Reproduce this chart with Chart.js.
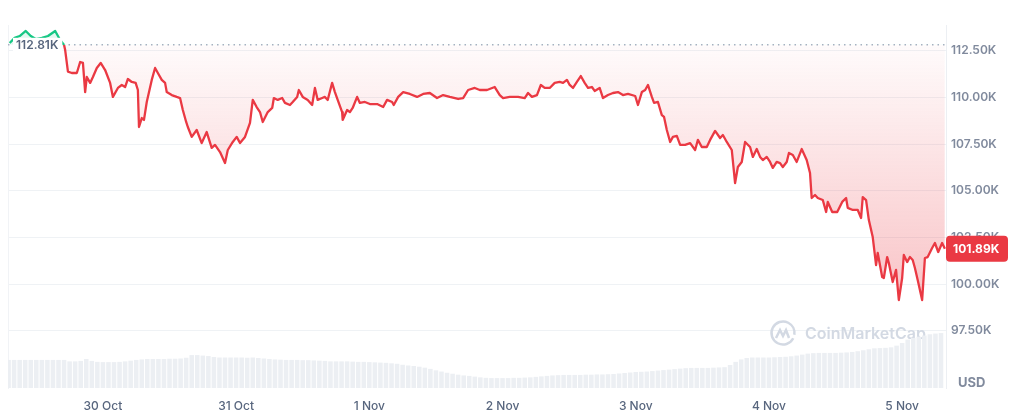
<!DOCTYPE html>
<html lang="en">
<head>
<meta charset="UTF-8">
<title>BTC price 7D</title>
<script src="https://cdn.jsdelivr.net/npm/chart.js"></script>
<style>
    body { margin: 0; background: #fff; }
    #wrap { width: 1012px; height: 414px; }
</style>
</head>
<body>
<div id="wrap"><canvas id="priceChart" width="1012" height="414"></canvas></div>
<script>
// time axis: hours counted from 29 Oct 00:00
const priceHours = [
    7.2, 8.1, 9.0, 10.1, 11.0, 11.9, 13.0, 14.1, 15.4, 16.3, 17.0,
    17.2, 17.7, 18.4, 19.3, 19.9, 20.4, 20.8, 21.1, 21.7, 22.2, 22.9, 23.6,
    24.4, 25.3, 25.8, 26.7, 27.4, 28.0, 28.5, 29.2, 29.9, 30.3, 30.5, 31.0, 31.4, 31.9,
    32.8, 33.4, 33.9, 34.6, 35.2, 35.5, 36.4, 37.3, 37.9, 38.4, 39.0, 39.3,
    40.0, 40.9, 41.8, 42.7, 43.6, 44.2, 45.1, 46.0, 46.5, 47.4, 48.1, 48.7, 49.6,
    50.5, 51.0, 51.7, 52.3, 52.8, 53.7, 54.5, 54.8, 55.5, 56.3, 56.8, 57.7, 58.2, 59.0, 59.3,
    60.0, 60.9, 61.7, 62.2, 62.7, 63.5, 64.0, 64.5, 65.3, 65.8, 66.3, 67.1, 67.2, 68.0, 68.5, 69.0, 69.8,
    70.3, 71.2, 72.1, 73.4, 74.5, 75.2, 76.1, 76.4, 77.2, 78.1, 79.3,
    80.6, 81.7, 82.9, 84.2, 85.3, 86.5, 88.0, 88.9, 89.8,
    91.0, 91.9, 93.2, 94.6, 95.5, 96.1, 97.3, 98.8, 100.0, 100.6, 101.3, 102.2, 102.9, 103.6, 104.5,
    105.4, 106.3, 106.9, 107.6, 108.1, 108.7, 109.4, 110.1, 110.8, 111.4, 112.1, 112.6, 113.5, 114.1, 115.0, 115.9, 116.8, 117.7, 118.6, 119.9,
    120.4, 121.1, 121.7, 122.2, 122.9, 123.3, 124.0, 124.7, 125.1, 125.6, 126.2, 126.7, 127.4, 128.0, 128.9, 129.8,
    130.7, 131.2, 131.9, 132.8, 133.4, 134.3, 135.2, 135.7, 136.4, 137.3, 137.9, 138.4, 139.1, 139.7,
    140.6, 141.1, 141.8, 142.4, 142.9, 143.6, 144.2, 144.7, 145.4, 146.0, 146.5, 147.2, 147.6, 148.3, 149.0, 149.9,
    150.8, 151.4, 151.7, 152.3, 152.8, 153.7, 154.3, 154.6, 155.4, 156.3, 157.2, 157.9, 158.2, 159.1, 160.0,
    160.6, 160.9, 161.5, 162.0, 162.7, 163.3, 163.6, 164.4, 164.7, 165.3, 165.6, 166.3, 166.9, 167.4, 168.0, 168.3, 168.9, 169.4, 169.9,
    170.3, 170.8, 171.6, 172.1, 172.6, 173.4, 173.9, 174.5, 175.2, 175.7
];
// price in thousands of USD
const priceK = [
    112.91, 113.18, 113.28, 113.55, 113.28, 113.12, 113.18, 113.28, 113.55, 113.07, 112.80,
    112.53, 111.37, 111.30, 111.30, 111.89, 111.84, 110.28, 111.09, 110.77, 111.09, 111.57, 111.84,
    111.46, 110.77, 110.02, 110.50, 110.66, 110.55, 110.98, 110.82, 110.77, 110.39, 108.41, 108.89, 108.79, 109.75,
    110.93, 111.57, 111.30, 110.93, 110.77, 110.28, 110.12, 110.02, 109.96, 109.32, 108.68, 108.41,
    107.88, 108.25, 107.55, 108.14, 107.29, 107.45, 107.07, 106.48, 107.18, 107.61, 107.88, 107.55, 107.88,
    108.63, 109.86, 109.48, 109.21, 108.68, 109.21, 109.43, 109.96, 109.86, 109.96, 109.70, 109.59, 109.75, 110.02, 110.39,
    110.02, 109.86, 109.59, 110.50, 109.86, 109.96, 110.02, 109.86, 110.77, 110.28, 109.86, 109.21, 108.79, 109.32, 109.21, 109.43, 110.02,
    109.70, 109.75, 109.64, 109.64, 109.48, 109.86, 109.75, 109.59, 110.02, 110.28, 110.18,
    110.02, 110.18, 110.23, 109.96, 110.12, 110.02, 109.91, 109.96, 110.39,
    110.50, 110.39, 110.39, 110.55, 110.12, 109.96, 110.02, 110.02, 109.96, 110.23, 110.02, 110.12, 110.66, 110.50, 110.50,
    110.77, 110.82, 110.77, 110.93, 110.66, 110.50, 110.82, 111.14, 110.77, 110.50, 110.55, 110.34, 110.50, 109.96, 110.12, 110.23, 110.28, 110.12, 110.18, 110.07,
    109.59, 110.28, 110.39, 110.66, 110.02, 109.70, 109.75, 109.05, 108.95, 108.25, 107.61, 107.88, 107.93, 107.45, 107.45, 107.55,
    107.18, 107.72, 107.34, 107.34, 107.72, 108.20, 107.82, 107.98, 107.61, 107.18, 105.41, 106.27, 106.54, 107.61,
    107.34, 106.81, 107.23, 106.81, 106.64, 106.81, 106.54, 106.22, 106.54, 106.48, 106.27, 106.54, 107.02, 106.91, 106.54, 107.23,
    106.64, 105.95, 104.61, 104.77, 104.61, 104.50, 103.86, 104.40, 103.86, 103.86, 104.40, 104.61, 104.08, 103.97, 103.97,
    103.54, 104.66, 104.50, 103.43, 102.52, 101.02, 101.67, 100.38, 100.33, 101.45, 101.13, 100.11, 100.76, 99.15, 100.33, 101.56, 101.18, 101.45, 101.29,
    100.86, 100.22, 99.15, 101.40, 101.45, 101.93, 102.20, 101.72, 102.20, 101.89
];
// hourly volume (billions USD), first bar at hour 7
const volStartHour = 7;
const volumeB = [
    11.6, 11.6, 11.6, 11.6, 11.6, 11.6, 11.6, 11.6, 11.6, 11.6, 11.6,
    11.0, 11.0, 11.2, 12.0,
    11.2, 10.8, 10.7, 10.7, 10.7, 10.8, 11.0, 11.3,
    11.6, 11.8, 12.0, 12.0, 12.0, 12.0, 12.1, 12.1, 12.2, 12.5,
    13.6, 13.6, 13.4, 13.2,
    12.8, 12.6, 12.6, 12.6, 12.6, 12.6, 12.5, 12.6, 12.4, 12.2,
    12.0, 11.8, 11.7, 11.6, 11.6, 11.6, 11.5, 11.5, 11.4, 11.3, 11.2, 11.0,
    11.0, 11.0, 11.0, 10.9, 10.8, 10.8, 10.7, 10.6, 10.5, 10.4, 10.2, 10.0,
    9.6, 9.3, 9.1, 8.8, 8.4, 7.9, 7.3, 6.8, 6.3, 5.9, 5.5, 5.2,
    5.0, 4.7, 4.4, 4.2, 4.1, 4.1, 4.1, 4.1, 4.2, 4.2, 4.3, 4.4,
    4.6, 4.8, 5.0, 5.2, 5.3, 5.4, 5.4, 5.4, 5.4, 5.5, 5.5, 5.6,
    5.6, 5.7, 5.8, 6.0, 6.2, 6.4, 6.6, 6.7, 6.8, 7.0, 7.2, 7.4,
    7.6, 7.8, 8.0, 8.2, 8.3, 8.3, 8.3, 8.3, 8.4, 8.5, 8.6, 9.5,
    10.8, 11.8, 12.4, 12.6, 12.6, 12.6, 12.6, 12.7, 12.8, 12.9, 13.1, 13.4,
    13.8, 14.2, 14.4, 14.5, 14.5, 14.5, 14.5, 14.6, 14.7, 14.9, 15.2, 15.6,
    16.0, 16.4, 16.5, 16.6, 16.8, 17.5, 18.6, 20.0, 20.7, 21.2, 21.7, 22.2,
    22.5, 22.7
];
const dayTicks = [24, 48, 72, 96, 120, 144, 168];
const dayLabels = ['30 Oct', '31 Oct', '1 Nov', '2 Nov', '3 Nov', '4 Nov', '5 Nov'];
const priceTicks = [97.5, 100, 102.5, 105, 107.5, 110, 112.5];
const openPrice = 112.81;
const lastPrice = priceK[priceK.length - 1];

const RED = '#ea3943';
const GREEN = '#16c784';
const GREY = '#808a9d';

Chart.defaults.font.family = 'Inter, "Noto Sans", sans-serif';

function belowGradient(c) {
    const chart = c.chart;
    const ys = chart.scales.y;
    if (!chart.chartArea || !ys) return 'rgba(234,57,67,0.08)';
    const g = chart.ctx.createLinearGradient(0, ys.getPixelForValue(openPrice), 0, ys.getPixelForValue(99));
    g.addColorStop(0, 'rgba(234,57,67,0.02)');
    g.addColorStop(1, 'rgba(234,57,67,0.30)');
    return g;
}

const overlays = {
    id: 'overlays',
    beforeDatasetsDraw(chart) {
        // watermark
        const {ctx, chartArea} = chart;
        const cy = chartArea.bottom - 55;
        const cx = chartArea.right - 163;
        ctx.save();
        ctx.strokeStyle = '#d3d9e3';
        ctx.lineWidth = 2.5;
        ctx.beginPath();
        ctx.arc(cx, cy, 11.5, 0.15 * Math.PI, 2.05 * Math.PI);
        ctx.stroke();
        ctx.beginPath();
        ctx.moveTo(cx - 7, cy + 5);
        ctx.lineTo(cx - 3, cy - 3);
        ctx.lineTo(cx, cy + 3);
        ctx.lineTo(cx + 3, cy - 3);
        ctx.lineTo(cx + 6, cy + 5);
        ctx.stroke();
        ctx.fillStyle = '#d3d9e3';
        ctx.font = '600 16px Inter, sans-serif';
        ctx.textBaseline = 'middle';
        ctx.fillText('CoinMarketCap', cx + 22, cy + 1);
        ctx.restore();
    },
    afterDraw(chart) {
        const {ctx, chartArea, scales} = chart;
        ctx.save();
        // opening price label
        const oy = scales.y.getPixelForValue(openPrice);
        ctx.font = '600 12px Inter, sans-serif';
        const txt = openPrice.toFixed(2) + 'K';
        const tw = ctx.measureText(txt).width;
        const tx = chartArea.left + 8;
        ctx.fillStyle = '#fff';
        ctx.fillRect(tx - 3, oy - 7, tw + 7, 15);
        ctx.fillStyle = '#58667e';
        ctx.textBaseline = 'middle';
        ctx.fillText(txt, tx, oy + 1);

        // current price tag
        const ly = scales.y.getPixelForValue(lastPrice);
        ctx.fillStyle = RED;
        ctx.beginPath();
        ctx.roundRect(chartArea.right, ly - 13, 62, 26, 4);
        ctx.fill();
        ctx.fillStyle = '#fff';
        ctx.font = '700 12px Inter, sans-serif';
        ctx.fillText(lastPrice.toFixed(2) + 'K', chartArea.right + 7, ly + 1);

        // currency
        ctx.fillStyle = GREY;
        ctx.font = '700 13px Inter, sans-serif';
        ctx.fillText('USD', chartArea.right + 12, chartArea.bottom - 5);
        ctx.restore();
    }
};

const ctx = document.getElementById('priceChart').getContext('2d');
new Chart(ctx, {
    data: {
        datasets: [
            {
                type: 'line',
                data: priceHours.map((h, i) => ({x: h, y: priceK[i]})),
                yAxisID: 'y',
                borderColor: RED,
                borderWidth: 2.3,
                borderJoinStyle: 'round',
                pointRadius: 0,
                tension: 0,
                segment: {
                    borderColor: c => c.p0.parsed.y > openPrice ? GREEN : RED
                },
                fill: {target: {value: openPrice}, above: 'rgba(22,199,132,0.12)'},
                backgroundColor: belowGradient,
                order: 0
            },
            {
                type: 'line',
                data: [{x: 6.9, y: openPrice}, {x: 175.9, y: openPrice}],
                yAxisID: 'y',
                borderColor: '#a9b2c2',
                borderWidth: 1.5,
                borderDash: [1.5, 4],
                pointRadius: 0,
                fill: false,
                order: 1
            },
            {
                type: 'bar',
                data: volumeB.map((v, i) => ({x: volStartHour + i, y: v})),
                yAxisID: 'y2',
                backgroundColor: '#eceff3',
                barPercentage: 0.82,
                categoryPercentage: 1,
                order: 3
            }
        ]
    },
    options: {
        responsive: false,
        animation: false,
        layout: {padding: {left: 8, top: 25, right: 0, bottom: 0}},
        plugins: {legend: {display: false}, tooltip: {enabled: false}},
        scales: {
            x: {
                type: 'linear',
                offset: false,
                min: 6.9,
                max: 175.9,
                grid: {display: false, drawTicks: false, offset: false},
                border: {display: false},
                afterBuildTicks: s => { s.ticks = dayTicks.map(v => ({value: v})); },
                afterFit: s => { s.height = 26; },
                ticks: {
                    autoSkip: false,
                    maxRotation: 0,
                    padding: 11,
                    color: '#58667e',
                    font: {size: 12, weight: '500'},
                    callback: v => dayLabels[dayTicks.indexOf(v)] || ''
                }
            },
            y: {
                position: 'right',
                min: 94.44,
                max: 113.87,
                grid: {color: '#eff2f5', drawTicks: false},
                border: {display: true, color: '#eceff3'},
                afterBuildTicks: s => { s.ticks = priceTicks.map(v => ({value: v})); },
                afterFit: s => { s.width = 66; },
                ticks: {
                    padding: 5,
                    color: GREY,
                    font: {size: 12, weight: '600'},
                    callback: v => v.toFixed(2) + 'K'
                }
            },
            y2: {
                position: 'left',
                min: 0,
                max: 150,
                grid: {display: false, drawTicks: false},
                border: {display: true, color: '#f1f3f6'},
                ticks: {display: false},
                afterFit: s => { s.width = 0; }
            }
        }
    },
    plugins: [overlays]
});
</script>
</body>
</html>
